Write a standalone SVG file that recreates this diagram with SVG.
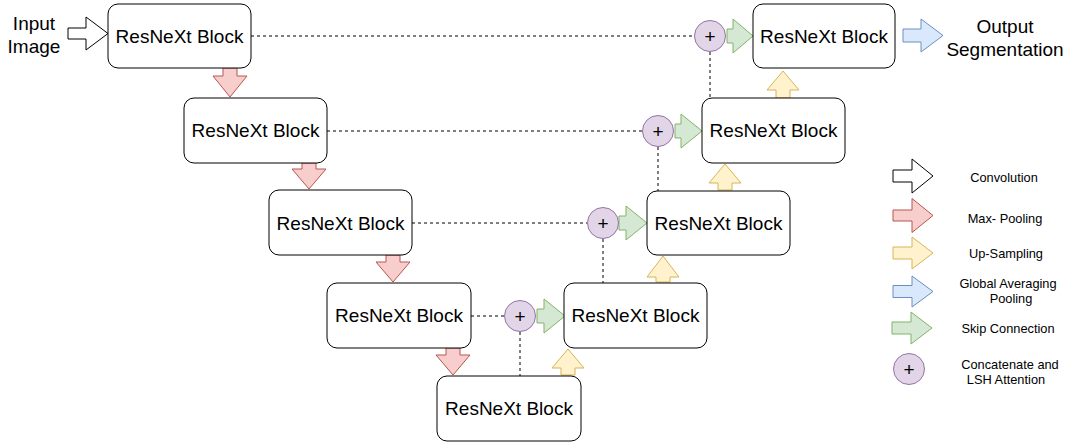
<svg xmlns="http://www.w3.org/2000/svg" width="1069" height="447" viewBox="0 0 1069 447">
<style>
.blk rect{fill:#fff;stroke:#000;stroke-width:1}
.blk text{font-family:"Liberation Sans",Arial,sans-serif;font-size:19px;fill:#000;text-anchor:middle}
.lbl{font-family:"Liberation Sans",Arial,sans-serif;font-size:19px;fill:#000;text-anchor:middle}
.leg{font-family:"Liberation Sans",Arial,sans-serif;font-size:12.8px;fill:#000;text-anchor:middle}
.dash{stroke:#000;stroke-width:1;stroke-dasharray:3 3;fill:none}
.conv{fill:#fff;stroke:#000;stroke-width:1}
.pool{fill:#f8cecc;stroke:#b85450;stroke-width:1}
.up{fill:#fff2cc;stroke:#d6b656;stroke-width:1}
.gap{fill:#dae8fc;stroke:#6c8ebf;stroke-width:1}
.skip{fill:#d5e8d4;stroke:#82b366;stroke-width:1}
.cat circle{fill:#e1d5e7;stroke:#9673a6;stroke-width:1}
.cat text{font-family:"Liberation Sans",Arial,sans-serif;font-size:19px;fill:#000;text-anchor:middle}
</style>
<g id="connectors">
<line class="dash" x1="251" y1="36" x2="694" y2="36"/>
<line class="dash" x1="710" y1="52" x2="710" y2="98"/>
<line class="dash" x1="327" y1="131" x2="642" y2="131"/>
<line class="dash" x1="658" y1="147" x2="658" y2="191"/>
<line class="dash" x1="412" y1="223" x2="587" y2="223"/>
<line class="dash" x1="603" y1="239" x2="603" y2="283"/>
<line class="dash" x1="471" y1="316" x2="504" y2="316"/>
<line class="dash" x1="520" y1="332" x2="520" y2="376"/>
<!-- input convolution arrow -->
<polygon class="conv" points="68,28 86,28 86,17 108,33.5 86,50 86,39 68,39"/>
<!-- output GAP arrow -->
<polygon class="gap" points="903,29 921,29 921,19 943,35.5 921,52 921,42 903,42"/>
<!-- pooling arrows (down) -->
<polygon class="pool" points="223,68 237,68 237,76 247,76 230,97 213,76 223,76"/>
<polygon class="pool" points="302,163 316,163 316,169 326,169 309,189 292,169 302,169"/>
<polygon class="pool" points="386,255 400,255 400,262 410,262 393,282 376,262 386,262"/>
<polygon class="pool" points="446,348 460,348 460,355 470,355 453,375 436,355 446,355"/>
<!-- up-sampling arrows -->
<polygon class="up" points="561,375 575,375 575,368 584,368 568,349 552,368 561,368"/>
<polygon class="up" points="656,282 670,282 670,277 679,277 663,256 647,277 656,277"/>
<polygon class="up" points="718,190 732,190 732,183 741,183 725,164 709,183 718,183"/>
<polygon class="up" points="776,98 790,98 790,90 799,90 783,71 767,90 776,90"/>
<!-- skip connection arrows -->
<polygon class="skip" points="727,29 733,29 733,19 753,36 733,53 733,43 727,43"/>
<polygon class="skip" points="675,124 681,124 681,114 702,131 681,148 681,138 675,138"/>
<polygon class="skip" points="619,216 626,216 626,206 647,223 626,240 626,230 619,230"/>
<polygon class="skip" points="537,309 544,309 544,299 565,316 544,333 544,323 537,323"/>
</g>
<g id="b1" class="blk"><rect x="108" y="4" width="143" height="64" rx="10"/><text x="179.5" y="42.7">ResNeXt Block</text></g>
<g id="b2" class="blk"><rect x="184" y="98" width="143" height="65" rx="10"/><text x="255.5" y="137.2">ResNeXt Block</text></g>
<g id="b3" class="blk"><rect x="269" y="190" width="143" height="65" rx="10"/><text x="340.5" y="229.7">ResNeXt Block</text></g>
<g id="b4" class="blk"><rect x="327" y="283" width="144" height="65" rx="10"/><text x="399" y="322.2">ResNeXt Block</text></g>
<g id="b5" class="blk"><rect x="437" y="376" width="144" height="65" rx="10"/><text x="509" y="415.2">ResNeXt Block</text></g>
<g id="b6" class="blk"><rect x="564" y="283" width="143" height="65" rx="10"/><text x="635.5" y="322.2">ResNeXt Block</text></g>
<g id="b7" class="blk"><rect x="647" y="191" width="143" height="64" rx="10"/><text x="718.5" y="229.7">ResNeXt Block</text></g>
<g id="b8" class="blk"><rect x="702" y="98" width="143" height="65" rx="10"/><text x="773.5" y="137.2">ResNeXt Block</text></g>
<g id="b9" class="blk"><rect x="753" y="4" width="142" height="64" rx="10"/><text x="824" y="42.7">ResNeXt Block</text></g>
<g id="c1" class="cat"><circle cx="710" cy="36" r="15.5"/><text x="710" y="42.5">+</text></g>
<g id="c2" class="cat"><circle cx="658" cy="131" r="15.5"/><text x="658" y="137.5">+</text></g>
<g id="c3" class="cat"><circle cx="603" cy="223" r="15.5"/><text x="603" y="229.5">+</text></g>
<g id="c4" class="cat"><circle cx="520" cy="316" r="15.5"/><text x="520" y="322.5">+</text></g>
<g id="input-label"><text class="lbl" x="34" y="30">Input</text><text class="lbl" x="34" y="52.5">Image</text></g>
<g id="output-label"><text class="lbl" x="1005" y="33">Output</text><text class="lbl" x="1005" y="55.5">Segmentation</text></g>
<g id="legend">
<polygon class="conv" points="893,170 912,170 912,159 933,176 912,193 912,182 893,182"/>
<text class="leg" x="1004" y="182">Convolution</text>
<polygon class="pool" points="893,210 912,210 912,198.5 933,215.5 912,232.5 912,221 893,221"/>
<text class="leg" x="1005" y="222.5">Max- Pooling</text>
<polygon class="up" points="893,247 912,247 912,237 933,253 912,269 912,259 893,259"/>
<text class="leg" x="1006" y="257.5">Up-Sampling</text>
<polygon class="gap" points="893,285.5 912,285.5 912,276 933,291.5 912,307 912,297.5 893,297.5"/>
<text class="leg" x="1008" y="288">Global Averaging</text>
<text class="leg" x="1011" y="303">Pooling</text>
<polygon class="skip" points="892,322 911,322 911,312 932,328 911,344 911,334 892,334"/>
<text class="leg" x="1008" y="333">Skip Connection</text>
<g class="cat"><circle cx="909" cy="369" r="15.5"/><text x="909" y="375.5">+</text></g>
<text class="leg" x="1010" y="369">Concatenate and</text>
<text class="leg" x="1006" y="384">LSH Attention</text>
</g>
</svg>
